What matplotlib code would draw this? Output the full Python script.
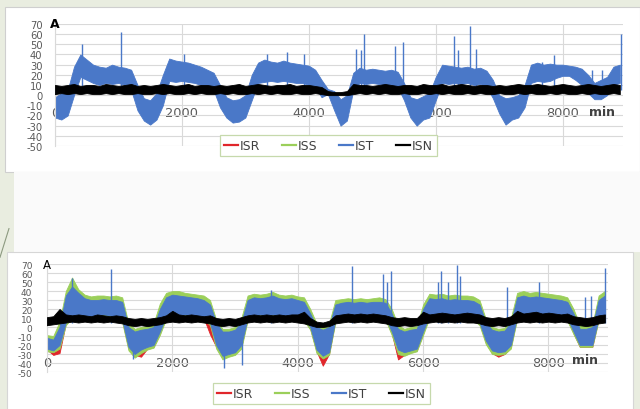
import numpy as np
import matplotlib.pyplot as plt
from matplotlib.lines import Line2D
from matplotlib.patches import Rectangle

# time bins (min), one value per 100 min
t_min = np.arange(0, 9000, 100)

y_ticks = list(range(-50, 71, 10))
y_labels = ['-50', '-40', '-30', '-20', '-10', '0', '10', '20', '30', '40', '50', '60', '70']
x_ticks = [0, 2000, 4000, 6000, 8000]
x_labels = ['0', '2000', '4000', '6000', '8000']
series = ['ISR', 'ISS', 'IST', 'ISN']

# ---- upper chart: band (low / high) of each trace per bin
top_ist_lo = [-22, -24, -20, 0, 18, 15, 12, 10, 12, 11,
              12, 10, 5, -15, -25, -29, -24, -10, 14, 13,
              14, 13, 12, 10, 8, 5, -12, -22, -27, -26,
              -22, -5, 12, 13, 14, 13, 14, 13, 12, 12,
              10, 8, -2, 1, -15, -30, -25, 5, 12, 11,
              12, 11, 10, 10, 8, -5, -22, -30, -24, -22,
              -5, 12, 11, 12, 11, 12, 10, 11, 8, -3,
              -18, -29, -24, -22, -12, 12, 14, 13, 14, 17,
              19, 19, 15, 10, 2, -4, -4, 0, 10, 12]
top_ist_hi = [-2, 2, 5, 28, 40, 35, 30, 28, 27, 30,
              28, 27, 25, 10, -3, -5, 2, 20, 36, 34,
              33, 32, 30, 28, 25, 22, 10, -2, -5, -4,
              0, 20, 32, 35, 33, 32, 34, 32, 31, 30,
              29, 25, 15, 6, 4, -4, 0, 22, 27, 25,
              26, 25, 24, 25, 23, 12, -2, -4, -1, 2,
              18, 30, 29, 28, 27, 28, 26, 27, 24, 15,
              0, -3, -2, 0, 10, 30, 32, 30, 31, 30,
              30, 29, 28, 26, 20, 12, 15, 18, 28, 30]
top_isn_lo = [1, 2, 1, 2, 1, 2, 1, 1, 2, 1,
              2, 1, 1, 2, 1, 1, 2, 1, 2, 1,
              1, 2, 1, 2, 1, 1, 2, 1, 2, 1,
              1, 2, 1, 2, 1, 2, 1, 1, 2, 1,
              1, 2, 1, 0, 0, 0, 0, 1, 2, 1,
              2, 1, 2, 1, 1, 2, 1, 1, 2, 1,
              2, 1, 2, 1, 1, 2, 1, 2, 1, 1,
              2, 1, 1, 2, 1, 2, 1, 1, 2, 1,
              2, 1, 1, 2, 1, 2, 1, 1, 2, 1]
top_isn_hi = [10, 9, 10, 11, 9, 10, 10, 9, 11, 10,
              9, 10, 11, 9, 10, 9, 10, 11, 10, 9,
              10, 11, 9, 10, 10, 9, 10, 9, 10, 11,
              9, 10, 11, 10, 9, 10, 10, 11, 9, 10,
              10, 9, 8, 4, 3, 3, 4, 11, 10, 10,
              9, 10, 11, 10, 9, 10, 10, 9, 11, 10,
              10, 11, 9, 10, 11, 10, 9, 10, 10, 9,
              10, 9, 10, 11, 10, 10, 11, 10, 9, 10,
              11, 10, 9, 10, 11, 10, 9, 10, 11, 10]
top_spike_t = [420, 1040, 2040, 3340, 3660, 3930, 4750, 4820, 4870, 5360,
               5490, 6280, 6350, 6545, 6640, 7670, 7860, 8460, 8620, 8920]
top_spike_v = [50, 62, 40, 40, 42, 40, 45, 44, 60, 48,
               52, 58, 44, 68, 45, 33, 39, 25, 25, 60]

# ---- lower chart
bot_ist_lo = [-24, -26, -20, 5, 12, 14, 13, 12, 13, 14,
              13, 12, 8, -22, -30, -25, -22, -20, -5, 12,
              14, 13, 14, 13, 12, 11, 5, -20, -32, -30,
              -28, -20, 10, 13, 14, 13, 14, 13, 12, 13,
              12, 10, 0, -25, -32, -28, 8, 12, 13, 12,
              13, 12, 13, 12, 11, -5, -25, -28, -26, -24,
              -5, 13, 12, 13, 12, 13, 12, 12, 11, 5,
              -15, -26, -28, -27, -20, 12, 14, 13, 14, 13,
              14, 13, 12, 10, -5, -20, -20, -20, 10, 13]
bot_ist_hi = [-12, -14, 0, 35, 45, 38, 32, 30, 30, 31,
              30, 30, 28, 0, -5, -3, -2, 0, 20, 33,
              36, 35, 34, 33, 32, 30, 25, 5, -5, -5,
              -3, 5, 30, 33, 32, 33, 35, 32, 31, 32,
              30, 28, 15, 0, -3, 0, 25, 27, 28, 27,
              28, 27, 28, 28, 27, 15, -2, -5, -3, -2,
              20, 32, 31, 32, 30, 31, 30, 30, 29, 25,
              5, -3, -5, -4, 5, 33, 35, 33, 34, 33,
              32, 31, 30, 28, 15, -2, -2, 0, 30, 35]
bot_iss_lo = [-27, -28, -24, 2, 10, 11, 10, 10, 11, 11,
              10, 10, 5, -26, -34, -29, -25, -23, -9, 9,
              11, 10, 11, 10, 9, 9, 2, -24, -36, -33,
              -31, -24, 7, 10, 11, 10, 11, 10, 9, 10,
              9, 7, -3, -29, -35, -31, 5, 9, 10, 9,
              10, 9, 10, 9, 8, -9, -30, -32, -29, -27,
              -9, 10, 9, 10, 9, 10, 9, 9, 8, 2,
              -19, -30, -31, -30, -24, 9, 11, 10, 11, 10,
              11, 10, 9, 7, -8, -22, -22, -22, 7, 10]
bot_iss_hi = [-9, -10, 6, 40, 55, 42, 36, 34, 35, 35,
              34, 35, 33, 4, -2, 0, 1, 4, 26, 38,
              40, 40, 38, 37, 36, 35, 30, 8, -2, -2,
              0, 10, 35, 37, 36, 37, 39, 36, 35, 36,
              34, 33, 20, 4, 0, 4, 30, 31, 32, 31,
              32, 31, 32, 33, 31, 20, 2, -2, 0, 1,
              25, 37, 36, 37, 35, 36, 35, 35, 34, 30,
              9, 0, -2, -1, 10, 38, 40, 38, 39, 38,
              37, 36, 35, 33, 20, 2, 1, 3, 35, 40]
bot_isr_lo = [-25, -31, -29, 4, 11, 13, 12, 11, 12, 13,
              12, 11, 7, -24, -31, -33, -24, -22, -7, 11,
              13, 12, 13, 12, 11, 10, -8, -22, -34, -32,
              -30, -22, 9, 12, 13, 12, 13, 12, 11, 12,
              11, 9, -2, -27, -43, -30, 7, 11, 12, 11,
              12, 11, 12, 11, 10, -7, -36, -31, -28, -26,
              -7, 12, 11, 12, 11, 12, 11, 11, 10, 4,
              -17, -29, -33, -30, -22, 11, 13, 12, 13, 12,
              13, 12, 11, 9, -7, -22, -22, -22, 9, 12]
bot_isr_hi = [-14, -16, -2, 30, 38, 34, 29, 27, 27, 28,
              27, 27, 25, -2, -7, -5, -4, -2, 17, 30,
              32, 31, 31, 30, 29, 27, 22, 3, -7, -7,
              -5, 3, 27, 30, 29, 30, 31, 29, 28, 29,
              27, 25, 12, -2, -5, -2, 22, 24, 25, 24,
              25, 24, 25, 25, 24, 12, -4, -7, -5, -4,
              17, 29, 28, 29, 27, 28, 27, 27, 26, 22,
              3, -5, -7, -6, 3, 30, 31, 30, 31, 30,
              29, 28, 27, 25, 12, -4, -4, -2, 27, 31]
bot_isn_lo = [2, 3, 4, 5, 6, 5, 6, 5, 6, 5,
              6, 5, 4, 2, 1, 2, 1, 2, 3, 5,
              6, 5, 6, 5, 6, 5, 4, 2, 1, 2,
              1, 3, 5, 6, 5, 6, 5, 6, 5, 6,
              5, 4, 2, 0, 0, 1, 4, 5, 6, 5,
              6, 5, 6, 5, 4, 2, 1, 2, 1, 2,
              4, 5, 6, 5, 6, 5, 6, 5, 5, 4,
              2, 1, 2, 1, 3, 5, 6, 5, 6, 5,
              6, 5, 6, 5, 3, 2, 1, 2, 4, 5]
bot_isn_hi = [11, 12, 20, 14, 13, 14, 13, 12, 14, 13,
              12, 13, 12, 10, 9, 10, 9, 10, 11, 13,
              18, 14, 13, 14, 13, 12, 13, 10, 9, 10,
              9, 11, 13, 14, 13, 14, 13, 14, 13, 14,
              14, 17, 10, 6, 5, 7, 13, 14, 15, 14,
              15, 14, 15, 14, 13, 11, 10, 11, 10, 10,
              17, 14, 15, 16, 15, 14, 15, 16, 15, 14,
              11, 10, 11, 10, 12, 18, 15, 16, 17, 15,
              16, 15, 14, 15, 12, 11, 10, 11, 13, 14]
bot_spike_t = [395, 1024, 3570, 4864, 5354, 5420, 5488, 6234, 6290, 6390,
               6538, 6596, 7343, 7850, 8580, 8685, 8910]
bot_spike_v = [55, 64, 41, 68, 59, 50, 62, 50, 62, 50,
               69, 57, 44, 50, 33, 35, 66]
bot_dip_t = [1380, 2820, 3115]
bot_dip_v = [-35, -45, -42]

c_red = '#e0262b'
c_green = '#9bcf5a'
c_blue = '#4a78c8'
c_black = '#000000'
label_gray = '#595959'

fig = plt.figure(figsize=(6.4, 4.1), dpi=100)
fig.patch.set_facecolor('#e9ede0')

# slide boxes behind the charts
fig.patches.append(Rectangle((0.008, 0.578), 0.992, 0.403, transform=fig.transFigure,
                             facecolor='white', edgecolor='#cfcfcf', lw=0.8, zorder=-2))
fig.patches.append(Rectangle((0.022, 0.383), 0.978, 0.195, transform=fig.transFigure,
                             facecolor='#fafafa', edgecolor='none', zorder=-2))
fig.patches.append(Rectangle((0.011, -0.01), 0.978, 0.393, transform=fig.transFigure,
                             facecolor='white', edgecolor='#d6d6d6', lw=0.8, zorder=-2))
fig.lines.append(Line2D([0.0, 0.014], [0.37, 0.44], transform=fig.transFigure,
                        color='#8c9a80', lw=0.8))


def style(ax, ysize, ypad, xlab_at):
    ax.set_facecolor('none')
    ax.set_xlim(0, 8950)
    ax.set_ylim(-50, 70)
    ax.set_yticks(y_ticks, labels=y_labels)
    ax.set_xticks(x_ticks, labels=x_labels)
    ax.grid(True, color='#d9d9d9', lw=0.8)
    ax.set_axisbelow(True)
    for s in ['top', 'right']:
        ax.spines[s].set_visible(False)
    ax.spines['left'].set_color('#d9d9d9')
    ax.spines['bottom'].set_position(('data', xlab_at))
    ax.spines['bottom'].set_visible(False)
    ax.tick_params(axis='both', length=0)
    ax.tick_params(axis='y', pad=ypad, labelcolor=label_gray)
    ax.tick_params(axis='x', pad=0, labelsize=9.3, labelcolor=label_gray)
    for lb in ax.get_xticklabels():
        lb.set_va('center')
    for lb in ax.get_yticklabels():
        lb.set_fontfamily(['Liberation Sans Narrow', 'DejaVu Sans'])
        lb.set_fontsize(ysize)


def legend(ax, cx, cy):
    handles = [Line2D([], [], color=c, lw=1.6) for c in [c_red, c_green, c_blue, c_black]]
    lg = ax.legend(handles, series, loc='center', bbox_to_anchor=(cx, cy),
                   bbox_transform=fig.transFigure, ncol=4, fontsize=9,
                   frameon=True, fancybox=False, framealpha=1, edgecolor='#c6d9ac',
                   handlelength=1.1, handletextpad=0.15, columnspacing=1.75,
                   borderpad=0.35, labelcolor='#404040')
    lg.get_frame().set_linewidth(0.9)


# ---- upper chart
ax1 = fig.add_axes([0.0859, 0.6415, 0.8875, 0.2976])
ax1.fill_between(t_min, top_ist_lo, top_ist_hi, color=c_blue, lw=0.6, zorder=2)
ax1.vlines(top_spike_t, 5, top_spike_v, color=c_blue, lw=1.0, zorder=2)
ax1.fill_between(t_min, top_isn_lo, top_isn_hi, color=c_black, lw=0.6, zorder=3)
style(ax1, 7.2, 9, -16.7)
ax1.text(-0.009, 1.0, 'A', transform=ax1.transAxes, ha='left', va='center',
         fontsize=9, fontweight='bold')
ax1.text(8620, -16.5, 'min', ha='center', va='center', fontsize=9,
         fontweight='bold', color='#404040')
legend(ax1, 0.5133, 0.6427)

# ---- lower chart
ax2 = fig.add_axes([0.0734, 0.0902, 0.8766, 0.2634])
ax2.fill_between(t_min, bot_isr_lo, bot_isr_hi, color=c_red, lw=0.6, zorder=2)
ax2.fill_between(t_min, bot_iss_lo, bot_iss_hi, color=c_green, lw=0.6, zorder=2)
ax2.fill_between(t_min, bot_ist_lo, bot_ist_hi, color=c_blue, lw=0.6, zorder=2)
ax2.vlines(bot_spike_t, 5, bot_spike_v, color=c_blue, lw=1.0, zorder=2)
ax2.vlines(bot_dip_t, -15, bot_dip_v, color=c_blue, lw=1.0, zorder=2)
ax2.fill_between(t_min, bot_isn_lo, bot_isn_hi, color=c_black, lw=0.6, zorder=3)
style(ax2, 6.5, 10.5, -38.9)
ax2.text(-0.007, 1.0, 'A', transform=ax2.transAxes, ha='left', va='center', fontsize=8.5)
ax2.text(8576, -35.6, 'min', ha='center', va='center', fontsize=9,
         fontweight='bold', color='#404040')
legend(ax2, 0.5023, 0.0378)

fig.savefig('out.png', dpi=100, facecolor=fig.get_facecolor())
